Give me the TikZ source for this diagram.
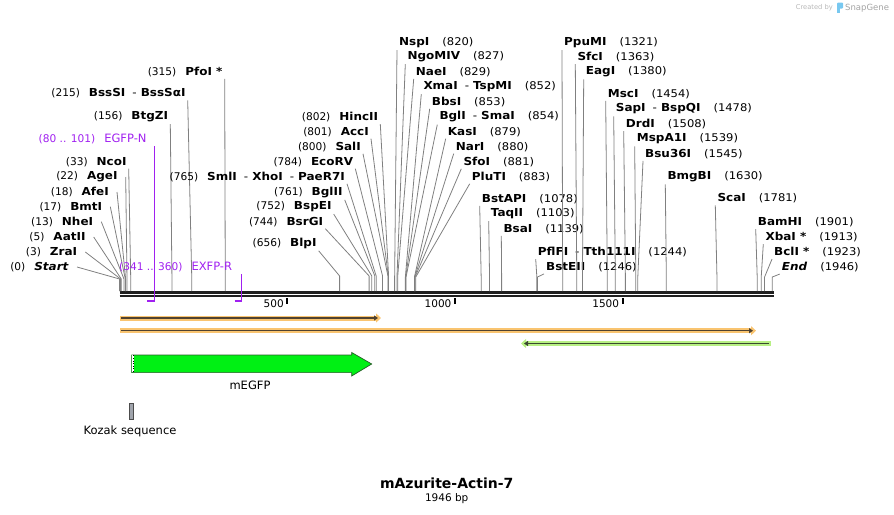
\documentclass[tikz,border=0pt]{standalone}
\usepackage{fontspec}
\setmainfont{DejaVu Sans}[BoldFont={DejaVu Sans Bold},ItalicFont={DejaVu Sans Oblique},BoldItalicFont={DejaVu Sans Bold Oblique}]
\newfontfamily\enzfont{DejaVu Sans}[FakeStretch=1.09,BoldFont={DejaVu Sans Bold},ItalicFont={DejaVu Sans Oblique},BoldItalicFont={DejaVu Sans Bold Oblique}]
\usetikzlibrary{arrows.meta,positioning}
\definecolor{cutgray}{RGB}{128,128,128}
\definecolor{primer}{RGB}{160,32,240}
\definecolor{orfband}{RGB}{249,196,112}
\definecolor{orfline}{RGB}{80,66,48}
\definecolor{revband}{RGB}{184,240,132}
\definecolor{revline}{RGB}{58,72,48}
\definecolor{gfpgreen}{RGB}{0,240,20}
\definecolor{gfpedge}{RGB}{40,90,40}
\definecolor{kozakgray}{RGB}{160,164,172}
\definecolor{sgblue}{RGB}{120,200,240}
\newcommand{\numf}{\fontsize{10.6}{12}\selectfont\mdseries}
\newcommand{\namef}{\fontsize{11}{13}\selectfont\enzfont\bfseries}
\newcommand{\sepd}{\hspace{7pt}{\mdseries-}\hspace{4pt}}
\tikzset{
  enzL/.style={anchor=east, inner sep=2pt},
  enzR/.style={anchor=west, inner sep=2pt},
  cutline/.style={draw=cutgray, line width=0.8pt},
  seqline/.style={draw=black!88, line width=2.7pt},
  tickmark/.style={draw=black, line width=2pt},
  ticklbl/.style={anchor=east, inner sep=1pt, font=\fontsize{10.5}{12}\selectfont},
  primerlbl/.style={anchor=east, inner sep=2pt, text=primer, font=\numf},
  primerline/.style={draw=primer, line width=1.2pt},
  primerbar/.style={draw=primer, line width=1.8pt},
  orfarr/.style={draw=orfband, line width=5pt, -{Triangle[length=5pt,width=9pt]}},
  orfin/.style={draw=orfline, line width=1.5pt, -{Triangle[length=4pt,width=5pt]}},
  revarr/.style={draw=revband, line width=5pt, {Triangle[length=5pt,width=9pt]}-},
  revin/.style={draw=revline, line width=1.5pt, {Triangle[length=4pt,width=5pt]}-},
  featlbl/.style={font=\fontsize{11.5}{13}\selectfont, inner sep=1pt}
}
\begin{document}
\begin{tikzpicture}[x=1pt,y=-1pt]
\useasboundingbox (0,0) rectangle (894,514);

% sequence backbone
\coordinate (seqL) at (119.6,292.3);
\coordinate (seqR) at (774,292.3);
\draw[seqline] (seqL) -- (seqR);
\draw[seqline] ([yshift=-3.7pt]seqL) -- ([yshift=-3.7pt]seqR);
\foreach \t in {500,1000,1500}{
  \draw[tickmark] ({119.6+0.3354*\t},298.2) -- ++(0,6.2);
  \node[ticklbl] (tick\t) at ({117.2+0.3354*\t},303.5) {\t};
}

% left labels, line leaves from the right side
\foreach \id/\ps/\lx/\ly/\lbl in {
  start/0/69/267/\textit{Start}, zra/3/77.3/252/ZraI, aat/5/85.7/237/AatII,
  nhe/13/93.3/221.7/NheI, bmt/17/102.3/206.7/BmtI, afe/18/109/192/AfeI,
  age/22/117.7/177/AgeI}{
  \node[enzL] (l-\id) at ({\lx+2},\ly) {\numf(\ps)\hspace{9pt}\namef\lbl};
  \coordinate (b-\id) at ({119.6+0.3354*\ps},279);
  \coordinate (e-\id) at ({119.6+0.3354*\ps},291);
  \draw[cutline] ([xshift=6pt]l-\id.east) -- (b-\id) -- (e-\id);
}
\foreach \id/\ps/\lx/\ly/\lbl in {
  nco/33/126.7/161.7/NcoI, btg/156/168.3/116.7/BtgZI,
  bss/215/185.7/93.3/{BssSI\sepd BssSαI}, pfo/315/222.7/71.7/{PfoI *},
  sml/765/345/176.7/{SmlI\sepd XhoI\sepd PaeR7I}, eco/784/353.3/161.7/EcoRV,
  sal/800/361/146.7/SalI, acc/801/369/131.7/AccI, hinc/802/378.3/117/HincII,
  bgl2/761/342.7/192.3/BglII, bspe/752/331.7/206.7/BspEI,
  bsrg/744/323.3/221.7/BsrGI, blp/656/316.7/243.3/BlpI}{
  \node[enzL] (l-\id) at ({\lx+2},\ly) {\numf(\ps)\hspace{9pt}\namef\lbl};
  \coordinate (b-\id) at ({119.6+0.3354*\ps},276);
  \coordinate (e-\id) at ({119.6+0.3354*\ps},291);
  \draw[cutline] (l-\id.south east) -- (b-\id) -- (e-\id);
}

% right labels, line leaves from the left side
\foreach \id/\ps/\lx/\ly/\lbl in {
  nsp/820/399/42.7/NspI, ngo/827/407.3/56.7/NgoMIV, nae/829/415.7/72/NaeI,
  xma/852/423.3/86.7/{XmaI\sepd TspMI}, bbs/853/431.7/101.7/BbsI,
  bgl1/854/439.3/117/{BglI\sepd SmaI}, kas/879/447.7/131.7/KasI,
  nar/880/455.7/146.7/NarI, sfo/881/463.3/161.7/SfoI, plu/883/471.7/176.7/PluTI,
  bstap/1078/481.7/199/BstAPI, taq/1103/490.7/213.7/TaqII, bsa/1139/503.3/229/BsaI,
  pfl/1244/537.7/252/{PflFI\sepd Tth111I}, bste/1246/546/267/BstEII,
  ppu/1321/564/42.7/PpuMI, sfc/1363/577.3/57/SfcI, eag/1380/585.7/72/EagI,
  msc/1454/607.7/94/MscI, sap/1478/615.7/109/{SapI\sepd BspQI},
  drd/1508/625.7/124/DrdI, msp/1539/636.7/139/MspA1I, bsu/1545/645/154/Bsu36I,
  bmg/1630/667.3/177/BmgBI, sca/1781/717.3/198.5/ScaI, bam/1901/757.7/222.3/BamHI,
  xba/1913/765.3/237/{XbaI *}, bcl/1923/774/252/{BclI *}, fin/1946/781.7/267/\textit{End}}{
  \node[enzR] (r-\id) at ({\lx-2},\ly) {\namef\lbl\hspace{13pt}\numf(\ps)};
  \coordinate (b-\id) at ({119.6+0.3354*\ps},277);
  \coordinate (e-\id) at ({119.6+0.3354*\ps},291);
  \draw[cutline] (r-\id.south west) -- (b-\id) -- (e-\id);
}

% primers
\node[primerlbl] (egfpn) at (148.7,139) {(80 .. 101)\hspace{9pt}{\fontsize{11.5}{13}\selectfont EGFP-N}};
\coordinate (egfpn-e) at (154.3,301.6);
\draw[primerline] (egfpn-e |- egfpn.south) -- (egfpn-e);
\draw[primerbar] ([xshift=-7pt,yshift=0.8pt]egfpn-e) -- ([yshift=0.8pt]egfpn-e);
\node[primerlbl] (exfpr) at (234.3,267) {(341 .. 360)\hspace{9pt}{\fontsize{11.5}{13}\selectfont EXFP-R}};
\coordinate (exfpr-e) at (241.7,301.6);
\draw[primerline] (exfpr-e |- exfpr.south) -- (exfpr-e);
\draw[primerbar] ([xshift=-7pt,yshift=0.8pt]exfpr-e) -- ([yshift=0.8pt]exfpr-e);

% features
\draw[orfarr] (120,318) -- (381,318);
\draw[orfin] (121,318) -- (378,318);
\draw[orfarr] (120,330.7) -- (756,330.7);
\draw[orfin] (121,330.7) -- (753,330.7);
\draw[revarr] (521,343.5) -- (771,343.5);
\draw[revin] (524,343.5) -- (769,343.5);

\draw[fill=gfpgreen, draw=gfpedge, line width=0.7pt]
  (131.7,355) -- (351.7,355) -- (351.7,352.5) -- (371.7,364) -- (351.7,376)
  -- (351.7,372.6) -- (131.7,372.6) -- cycle;
\fill[white] (132.1,355.4) rectangle (134,372.2);
\draw[dotted, line width=0.6pt] (133,355.4) -- (133,372.2);
\node[featlbl] (gfp) at (250,385.5) {mEGFP};

\draw[fill=kozakgray, draw=black!70, line width=0.6pt] (129.3,403.3) rectangle (133.3,419.3);
\node[featlbl] (kozak) at (130,431.5) {Kozak sequence};

% title
\node[font=\fontsize{14}{16}\selectfont\bfseries, inner sep=1pt] (title) at (446.7,483.3) {mAzurite-Actin-7};
\node[font=\fontsize{10.5}{12}\selectfont, inner sep=1pt] (size) at (446.7,498.3) {1946 bp};

% credit
\node[anchor=east, inner sep=0pt, text=black!28, font=\fontsize{6.7}{8}\selectfont] (cby) at (833,7.5) {Created by};
\fill[sgblue, rounded corners=1pt] (837,2.5) rectangle (843,8.5);
\fill[sgblue] (837,7) rectangle (840,12.5);
\node[anchor=west, inner sep=0pt, text=black!36, font=\fontsize{8.5}{10}\selectfont] (sg) at (845,7.8) {SnapGene};
\end{tikzpicture}
\end{document}
